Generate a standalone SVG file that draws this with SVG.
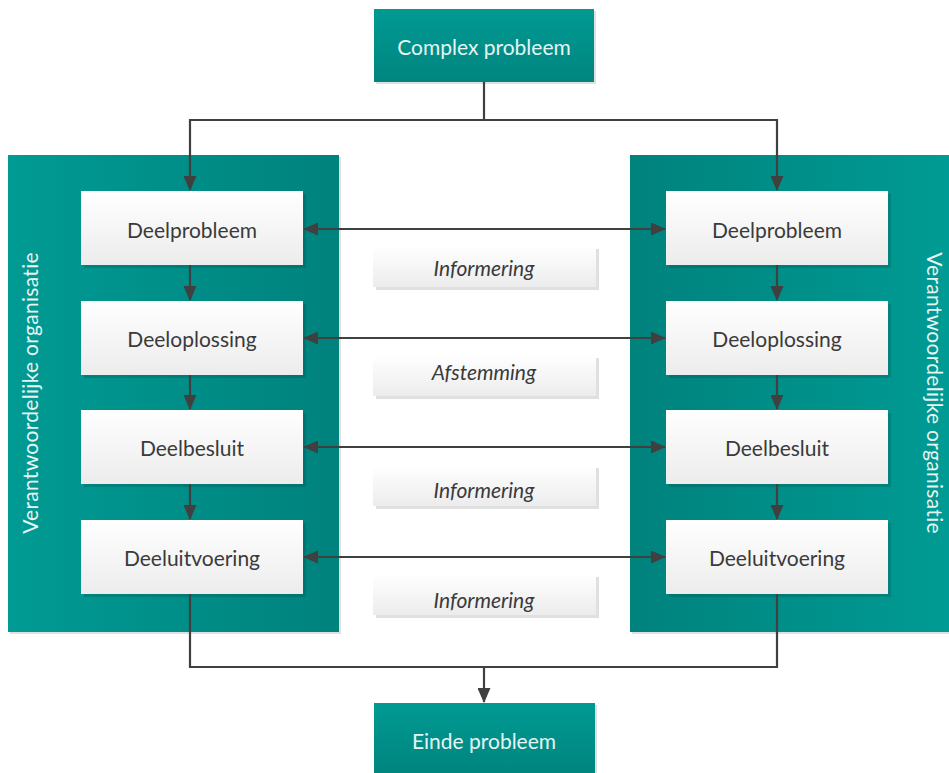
<svg xmlns="http://www.w3.org/2000/svg" width="949" height="773" viewBox="0 0 949 773">
<defs>
<linearGradient id="gTeal" x1="0" y1="0" x2="0" y2="1"><stop offset="0" stop-color="#009a93"/><stop offset="1" stop-color="#00857f"/></linearGradient>
<linearGradient id="gPanelL" x1="0" y1="0" x2="1" y2="0"><stop offset="0" stop-color="#009b94"/><stop offset="1" stop-color="#00827d"/></linearGradient>
<linearGradient id="gPanelR" x1="0" y1="0" x2="1" y2="0"><stop offset="0" stop-color="#00827d"/><stop offset="1" stop-color="#009b94"/></linearGradient>
<linearGradient id="gBox" x1="0" y1="0" x2="0" y2="1"><stop offset="0" stop-color="#ffffff"/><stop offset="1" stop-color="#ececec"/></linearGradient>
<marker id="ah" viewBox="0 0 15 13" refX="14" refY="6.5" markerWidth="15" markerHeight="13" markerUnits="userSpaceOnUse" orient="auto-start-reverse"><path d="M0,0 L15,6.5 L0,13 Z" fill="#404040"/></marker>
</defs>
<style>
.teal{fill:url(#gTeal)}
.shadow{fill:#000;opacity:0.12}
.box{fill:url(#gBox)}
.t{font-family:Lato,"Open Sans","Liberation Sans",sans-serif;font-size:21px;text-anchor:middle;dominant-baseline:central}
.dark{fill:#3a3a3a}
.light{fill:#e6f4f2}
.it{font-style:italic}
.side{font-family:Lato,"Open Sans","Liberation Sans",sans-serif;font-size:21px;letter-spacing:0.3px;fill:#e6f4f2;text-anchor:middle;dominant-baseline:central}
.c{fill:none;stroke:#404040;stroke-width:2.2}
</style>
<rect width="949" height="773" fill="#ffffff"/>

<g id="panel-left">
<rect x="10" y="157" width="331" height="477" class="shadow"/>
<rect x="8" y="155" width="331" height="477" fill="url(#gPanelL)"/>
<text class="side" transform="translate(29,393) rotate(-90)">Verantwoordelijke organisatie</text>
</g>
<g id="panel-right">
<rect x="632" y="157" width="319" height="477" class="shadow"/>
<rect x="630" y="155" width="319" height="477" fill="url(#gPanelR)"/>
<text class="side" transform="translate(935,393) rotate(90)">Verantwoordelijke organisatie</text>
</g>

<g id="complex-probleem">
<rect x="376" y="11" width="220" height="73" class="shadow"/>
<rect x="374" y="9" width="220" height="73" class="teal"/>
<text class="t light" x="484" y="46">Complex probleem</text>
</g>
<g id="einde-probleem">
<rect x="376" y="705" width="221" height="70" class="shadow"/>
<rect x="374" y="703" width="221" height="70" class="teal"/>
<text class="t light" x="484" y="740">Einde probleem</text>
</g>

<g id="l-deelprobleem"><rect x="84" y="194" width="222" height="74" class="shadow"/><rect x="81" y="191" width="222" height="74" class="box"/><text class="t dark" x="192" y="229">Deelprobleem</text></g>
<g id="l-deeloplossing"><rect x="84" y="304" width="222" height="74" class="shadow"/><rect x="81" y="301" width="222" height="74" class="box"/><text class="t dark" x="192" y="338">Deeloplossing</text></g>
<g id="l-deelbesluit"><rect x="84" y="413" width="222" height="74" class="shadow"/><rect x="81" y="410" width="222" height="74" class="box"/><text class="t dark" x="192" y="447">Deelbesluit</text></g>
<g id="l-deeluitvoering"><rect x="84" y="523" width="222" height="74" class="shadow"/><rect x="81" y="520" width="222" height="74" class="box"/><text class="t dark" x="192" y="557">Deeluitvoering</text></g>

<g id="r-deelprobleem"><rect x="669" y="194" width="222" height="74" class="shadow"/><rect x="666" y="191" width="222" height="74" class="box"/><text class="t dark" x="777" y="229">Deelprobleem</text></g>
<g id="r-deeloplossing"><rect x="669" y="304" width="222" height="74" class="shadow"/><rect x="666" y="301" width="222" height="74" class="box"/><text class="t dark" x="777" y="338">Deeloplossing</text></g>
<g id="r-deelbesluit"><rect x="669" y="413" width="222" height="74" class="shadow"/><rect x="666" y="410" width="222" height="74" class="box"/><text class="t dark" x="777" y="447">Deelbesluit</text></g>
<g id="r-deeluitvoering"><rect x="669" y="523" width="222" height="74" class="shadow"/><rect x="666" y="520" width="222" height="74" class="box"/><text class="t dark" x="777" y="557">Deeluitvoering</text></g>

<g id="m-informering-1"><rect x="376" y="249" width="223" height="41" class="shadow"/><rect x="373" y="246" width="223" height="41" class="box"/><text class="t dark it" x="484" y="267">Informering</text></g>
<g id="m-afstemming"><rect x="376" y="358" width="223" height="41" class="shadow"/><rect x="373" y="355" width="223" height="41" class="box"/><text class="t dark it" x="484" y="371">Afstemming</text></g>
<g id="m-informering-2"><rect x="376" y="468" width="223" height="41" class="shadow"/><rect x="373" y="465" width="223" height="41" class="box"/><text class="t dark it" x="484" y="489">Informering</text></g>
<g id="m-informering-3"><rect x="376" y="577" width="223" height="41" class="shadow"/><rect x="373" y="574" width="223" height="41" class="box"/><text class="t dark it" x="484" y="599">Informering</text></g>

<g id="connectors">
<path class="c" d="M484,82 V120 H190 V190" marker-end="url(#ah)"/>
<path class="c" d="M484,120 H777 V190" marker-end="url(#ah)"/>
<path class="c" d="M190,265 V300" marker-end="url(#ah)"/>
<path class="c" d="M190,375 V409" marker-end="url(#ah)"/>
<path class="c" d="M190,484 V519" marker-end="url(#ah)"/>
<path class="c" d="M777,265 V300" marker-end="url(#ah)"/>
<path class="c" d="M777,375 V409" marker-end="url(#ah)"/>
<path class="c" d="M777,484 V519" marker-end="url(#ah)"/>
<path class="c" d="M304,229 H665" marker-start="url(#ah)" marker-end="url(#ah)"/>
<path class="c" d="M304,338 H665" marker-start="url(#ah)" marker-end="url(#ah)"/>
<path class="c" d="M304,447 H665" marker-start="url(#ah)" marker-end="url(#ah)"/>
<path class="c" d="M304,557 H665" marker-start="url(#ah)" marker-end="url(#ah)"/>
<path class="c" d="M190,594 V667 H777 V594"/>
<path class="c" d="M484,667 V702" marker-end="url(#ah)"/>
</g>
</svg>
